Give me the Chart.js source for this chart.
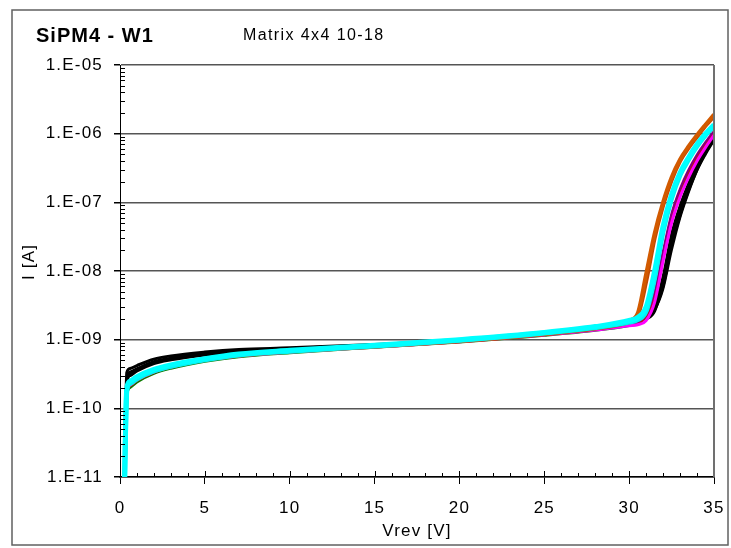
<!DOCTYPE html>
<html>
<head>
<meta charset="utf-8">
<script src="https://cdn.jsdelivr.net/npm/chart.js@4.4.1/dist/chart.umd.min.js"></script>
<style>
  html, body { margin: 0; padding: 0; background: #fff; }
  canvas { display: block; }
</style>
</head>
<body>
<canvas id="iv" width="731" height="548"></canvas>
<script>
// reverse voltage points (V)
const vrev = [0.25, 0.4, 0.6, 1, 2, 3, 5, 7, 10, 15, 20, 25, 28, 30, 30.5, 31, 31.5, 32, 32.5, 33, 33.5, 34, 34.5, 35];

// currents (A), one array per device
const cyanA   = [5e-12, 2.0e-10, 2.5e-10, 2.9e-10, 3.7e-10, 4.3e-10, 5.3e-10, 6.2e-10, 7.0e-10, 8.3e-10, 1.0e-9, 1.27e-9, 1.55e-9, 1.9e-9, 2.1e-9, 3.0e-9, 1.0e-8, 4.5e-8, 1.3e-7, 2.7e-7, 4.5e-7, 7.0e-7, 1.0e-6, 1.35e-6];
const cyanB   = [5e-12, 1.8e-10, 2.3e-10, 2.7e-10, 3.5e-10, 4.1e-10, 5.1e-10, 6.0e-10, 6.8e-10, 8.1e-10, 9.8e-10, 1.25e-9, 1.5e-9, 1.8e-9, 1.95e-9, 2.6e-9, 8.0e-9, 3.8e-8, 1.15e-7, 2.5e-7, 4.2e-7, 6.6e-7, 9.5e-7, 1.3e-6];
const orangeA = [5e-12, 1.9e-10, 2.4e-10, 2.8e-10, 3.6e-10, 4.2e-10, 5.2e-10, 6.0e-10, 6.8e-10, 8.0e-10, 9.6e-10, 1.22e-9, 1.5e-9, 1.9e-9, 2.4e-9, 9.0e-9, 3.5e-8, 1.0e-7, 2.3e-7, 4.2e-7, 6.5e-7, 9.5e-7, 1.35e-6, 1.9e-6];
const orangeB = [5e-12, 1.8e-10, 2.3e-10, 2.7e-10, 3.5e-10, 4.1e-10, 5.1e-10, 5.9e-10, 6.7e-10, 7.9e-10, 9.5e-10, 1.2e-9, 1.45e-9, 1.8e-9, 2.2e-9, 7.0e-9, 3.0e-8, 9.0e-8, 2.1e-7, 4.0e-7, 6.2e-7, 9.0e-7, 1.3e-6, 1.8e-6];
const magenta = [5e-12, 1.7e-10, 2.2e-10, 2.6e-10, 3.4e-10, 4.0e-10, 5.0e-10, 5.8e-10, 6.6e-10, 7.8e-10, 9.3e-10, 1.17e-9, 1.38e-9, 1.6e-9, 1.65e-9, 1.9e-9, 3.5e-9, 1.4e-8, 5.0e-8, 1.2e-7, 2.3e-7, 4.0e-7, 6.3e-7, 9.5e-7];
const purple  = [5e-12, 1.8e-10, 2.3e-10, 2.7e-10, 3.5e-10, 4.1e-10, 5.1e-10, 5.9e-10, 6.7e-10, 7.9e-10, 9.4e-10, 1.18e-9, 1.42e-9, 1.7e-9, 1.8e-9, 2.3e-9, 5.0e-9, 2.0e-8, 7.0e-8, 1.6e-7, 3.0e-7, 5.0e-7, 7.6e-7, 1.1e-6];
const red     = [5e-12, 1.6e-10, 2.1e-10, 2.5e-10, 3.3e-10, 3.9e-10, 4.9e-10, 5.7e-10, 6.5e-10, 7.8e-10, 9.3e-10, 1.17e-9, 1.4e-9, 1.65e-9, 1.75e-9, 2.2e-9, 4.5e-9, 1.8e-8, 6.5e-8, 1.5e-7, 2.8e-7, 4.7e-7, 7.2e-7, 1.05e-6];
const green   = [5e-12, 1.5e-10, 2.0e-10, 2.4e-10, 3.2e-10, 3.8e-10, 4.8e-10, 5.6e-10, 6.4e-10, 7.7e-10, 9.2e-10, 1.15e-9, 1.36e-9, 1.6e-9, 1.7e-9, 2.1e-9, 4.0e-9, 1.6e-8, 5.8e-8, 1.35e-7, 2.6e-7, 4.4e-7, 6.8e-7, 1.0e-6];
const blackA  = [5e-12, 3.3e-10, 3.8e-10, 4.2e-10, 5.2e-10, 5.8e-10, 6.6e-10, 7.2e-10, 7.6e-10, 8.5e-10, 9.8e-10, 1.25e-9, 1.5e-9, 1.8e-9, 1.9e-9, 2.1e-9, 2.8e-9, 6.0e-9, 2.4e-8, 6.5e-8, 1.5e-7, 3.0e-7, 5.3e-7, 8.8e-7];
const blackB  = [5e-12, 2.3e-10, 3.0e-10, 3.5e-10, 4.5e-10, 5.1e-10, 6.0e-10, 6.7e-10, 7.3e-10, 8.3e-10, 9.6e-10, 1.22e-9, 1.45e-9, 1.7e-9, 1.8e-9, 2.0e-9, 2.6e-9, 7.0e-9, 2.8e-8, 7.5e-8, 1.6e-7, 3.2e-7, 5.3e-7, 8.3e-7];
const blackC  = [5e-12, 2.8e-10, 3.4e-10, 3.8e-10, 4.8e-10, 5.4e-10, 6.3e-10, 6.9e-10, 7.5e-10, 8.4e-10, 9.7e-10, 1.24e-9, 1.48e-9, 1.75e-9, 1.85e-9, 2.1e-9, 3.0e-9, 8.5e-9, 3.5e-8, 9.0e-8, 1.9e-7, 3.6e-7, 5.8e-7, 9.2e-7];
const blackD  = [5e-12, 2.5e-10, 3.2e-10, 3.6e-10, 4.6e-10, 5.3e-10, 6.2e-10, 6.8e-10, 7.4e-10, 8.4e-10, 9.7e-10, 1.23e-9, 1.47e-9, 1.72e-9, 1.82e-9, 2.0e-9, 2.7e-9, 5.5e-9, 2.0e-8, 6.0e-8, 1.4e-7, 2.9e-7, 5.0e-7, 8.0e-7];

const yTicks = [1e-11, 1e-10, 1e-9, 1e-8, 1e-7, 1e-6, 1e-5];
const xTicks = [0, 5, 10, 15, 20, 25, 30, 35];

const titleText = 'SiPM4 - W1';
const subText = 'Matrix 4x4 10-18';
const xTitle = 'Vrev [V]';
const yTitle = 'I [A]';

const FONT = "'Liberation Sans', Arial, sans-serif";

// first in list is drawn on top
const series = [
  { d: cyanA,   c: '#00ffff', w: 5 },
  { d: cyanB,   c: '#00f4f4', w: 5 },
  { d: orangeA, c: '#d25a00', w: 4 },
  { d: orangeB, c: '#c04800', w: 4 },
  { d: magenta, c: '#ff00ff', w: 3 },
  { d: purple,  c: '#800080', w: 2 },
  { d: red,     c: '#e00000', w: 2 },
  { d: green,   c: '#008000', w: 2.5 },
  { d: blackC,  c: '#000000', w: 2.5 },
  { d: blackA,  c: '#000000', w: 3 },
  { d: blackD,  c: '#000000', w: 2.5 },
  { d: blackB,  c: '#000000', w: 3 }
];

function pts(arr) { return vrev.map((v, i) => ({ x: v, y: arr[i] })); }

function expLabel(v) {
  const e = Math.round(Math.log10(v));
  return '1.E' + (e < 0 ? '-' : '+') + String(Math.abs(e)).padStart(2, '0');
}

// frame, minor ticks, titles
const deco = {
  id: 'deco',
  beforeDraw(chart) {
    chart.ctx.letterSpacing = '1.2px';
  },
  afterDraw(chart) {
    const { ctx, chartArea: a, scales: { x, y } } = chart;
    ctx.save();
    ctx.strokeStyle = '#000';
    ctx.lineWidth = 1;
    ctx.beginPath();
    for (let e = -11; e < -5; e++) {
      for (let m = 2; m <= 9; m++) {
        const py = Math.round(y.getPixelForValue(m * Math.pow(10, e))) + 0.5;
        ctx.moveTo(a.left, py); ctx.lineTo(a.left + 5, py);
      }
    }
    for (let v = 1; v < 35; v++) {
      const px = Math.round(x.getPixelForValue(v)) + 0.5;
      ctx.moveTo(px, a.bottom); ctx.lineTo(px, a.bottom - (v % 5 === 0 ? 6 : 4));
    }
    ctx.stroke();

    // right edge of plot
    ctx.strokeStyle = '#707070';
    ctx.lineWidth = 2;
    ctx.beginPath();
    ctx.moveTo(a.right, a.top); ctx.lineTo(a.right, a.bottom);
    ctx.stroke();

    // outer frame
    ctx.strokeStyle = '#606060';
    ctx.lineWidth = 1.5;
    ctx.strokeRect(12, 10, 716, 535);

    ctx.fillStyle = '#000';
    ctx.textBaseline = 'alphabetic';
    ctx.textAlign = 'left';
    ctx.letterSpacing = '1px';
    ctx.font = 'bold 20px ' + FONT;
    ctx.fillText(titleText, 36, 42);
    ctx.letterSpacing = '1.4px';
    ctx.font = '16px ' + FONT;
    ctx.fillText(subText, 243, 40);

    ctx.letterSpacing = '1.2px';
    ctx.font = '17px ' + FONT;
    ctx.textAlign = 'center';
    ctx.fillText(xTitle, (a.left + a.right) / 2, 536);

    ctx.translate(34, 262);
    ctx.rotate(-Math.PI / 2);
    ctx.fillText(yTitle, 0, 0);
    ctx.restore();
  }
};

new Chart(document.getElementById('iv'), {
  type: 'line',
  data: {
    datasets: series.map(s => ({
      data: pts(s.d),
      borderColor: s.c,
      backgroundColor: s.c,
      borderWidth: s.w,
      pointRadius: 0,
      fill: false,
      cubicInterpolationMode: 'monotone',
      clip: 0
    }))
  },
  options: {
    responsive: false,
    animation: false,
    layout: { padding: { left: 0, top: 65, right: 17, bottom: 0 } },
    plugins: { legend: { display: false }, tooltip: { enabled: false } },
    scales: {
      x: {
        type: 'linear',
        min: 0, max: 35,
        afterBuildTicks: s => { s.ticks = xTicks.map(v => ({ value: v })); },
        afterFit: s => { s.height = 71; s.paddingLeft = 0; s.paddingRight = 0; },
        ticks: { color: '#000', font: { family: FONT, size: 17 }, padding: 14, maxRotation: 0 },
        grid: { drawOnChartArea: false, drawTicks: true, tickLength: 7, color: '#000', tickColor: '#000' },
        border: { color: '#000', width: 1.5 }
      },
      y: {
        type: 'logarithmic',
        min: 1e-11, max: 1e-5,
        afterBuildTicks: s => { s.ticks = yTicks.map(v => ({ value: v })); },
        afterFit: s => { s.width = 120; s.paddingTop = 0; s.paddingBottom = 0; },
        ticks: { color: '#000', font: { family: FONT, size: 17 }, padding: 11, callback: v => expLabel(v) },
        grid: { color: '#555', lineWidth: 1.5, tickLength: 6, tickColor: '#000' },
        border: { color: '#000', width: 1 }
      }
    }
  },
  plugins: [deco]
});
</script>
</body>
</html>
